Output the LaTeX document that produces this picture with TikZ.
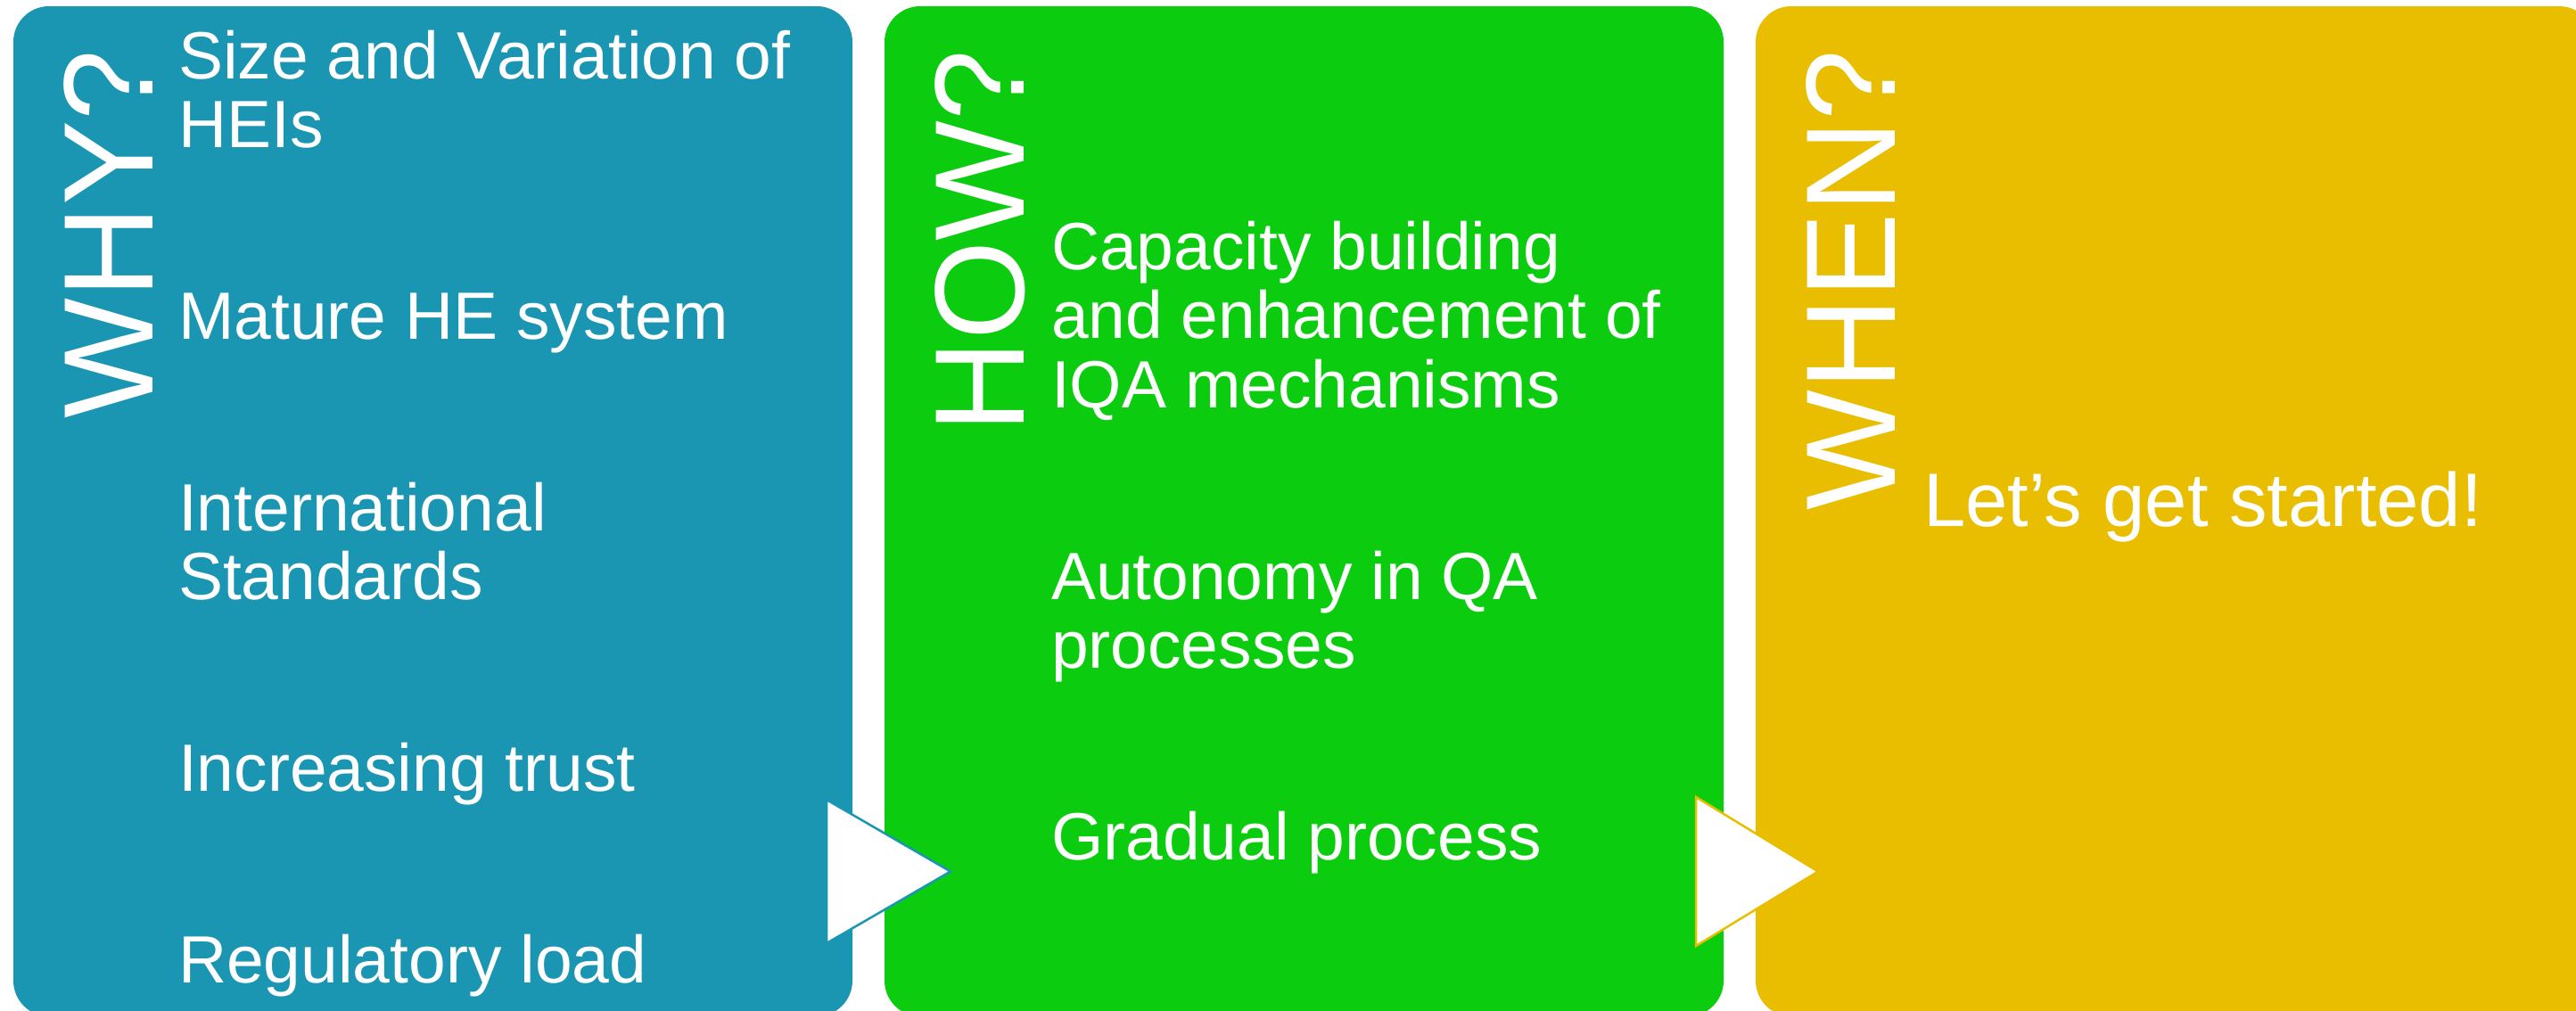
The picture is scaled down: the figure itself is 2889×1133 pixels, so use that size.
\documentclass[tikz,border=0pt]{standalone}
\usepackage{fontspec}
\setmainfont{Liberation Sans}
\definecolor{whyblue}{RGB}{26,149,178}
\definecolor{howgreen}{RGB}{11,204,14}
\definecolor{whenyellow}{RGB}{233,190,0}
\tikzset{
  panel/.style={rectangle, rounded corners=40pt, draw=none, minimum width=941pt, minimum height=1133pt, anchor=north west, inner sep=0pt, outer sep=0pt},
  item/.style={anchor=base west, inner sep=0pt, outer sep=0pt, text=white, font=\fontsize{75}{77}\selectfont},
  bigitem/.style={anchor=base west, inner sep=0pt, outer sep=0pt, text=white, font=\fontsize{85}{88}\selectfont},
  heading/.style={rotate=90, anchor=base east, inner sep=0pt, outer sep=0pt, text=white, font=\fontsize{143}{150}\selectfont},
  pointer/.style={fill=white, line width=2.5pt, line join=miter}
}
\begin{document}
\begin{tikzpicture}[x=1pt, y=-1pt]
\useasboundingbox (0,0) rectangle (2889,1133);
\clip (0,0) rectangle (2889,1133);
\fill[white] (0,0) rectangle (2889,1133);
% panels
\node[panel, fill=whyblue] (why) at (15,7) {};
\node[panel, fill=howgreen] (how) at (992,7) {};
\node[panel, fill=whenyellow] (when) at (1969,7) {};
% headings
\node[heading] (whyh) at (171,56) {WHY?};
\node[heading] (howh) at (1148,56) {HOW?};
\node[heading] (whenh) at (2125,56) {WHEN?};
% WHY items
\node[item] (w1a) at (200,88) {Size and Variation of};
\node[item] (w1b) at (200,165) {HEIs};
\node[item] (w2) at (200,380) {Mature HE system};
\node[item] (w3a) at (200,595) {International};
\node[item] (w3b) at (200,672) {Standards};
\node[item] (w4) at (200,887) {Increasing trust};
\node[item] (w5) at (200,1102) {Regulatory load};
% HOW items
\node[item] (h1a) at (1179,302) {Capacity building};
\node[item] (h1b) at (1179,379) {and enhancement of};
\node[item] (h1c) at (1179,457) {IQA mechanisms};
\node[item] (h2a) at (1179,672) {Autonomy in QA};
\node[item] (h2b) at (1179,749) {processes};
\node[item] (h3) at (1179,964) {Gradual process};
% WHEN item
\node[bigitem] (e1) at (2157,590) {Let’s get started!};
% pointers
\draw[pointer, draw=whyblue] (927,897) -- (927,1058) -- (1066,977.5) -- cycle;
\draw[pointer, draw=whenyellow] (1902,894) -- (1902,1061) -- (2039,977.5) -- cycle;
\end{tikzpicture}
\end{document}
